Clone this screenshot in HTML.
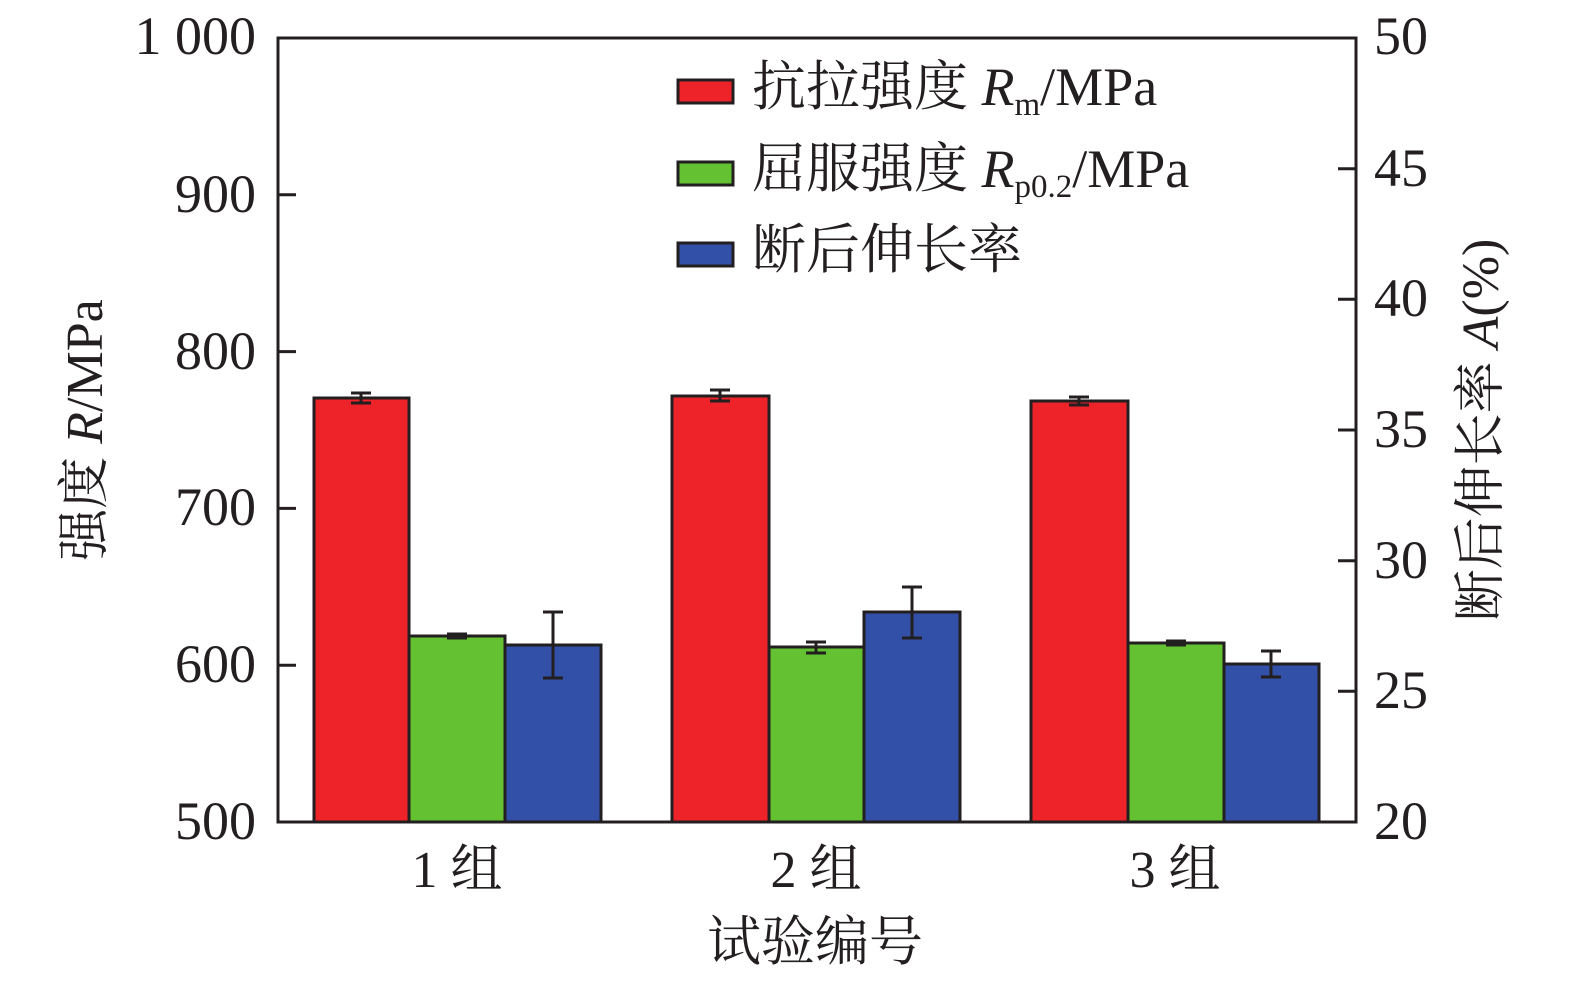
<!DOCTYPE html>
<html><head><meta charset="utf-8"><style>
html,body{margin:0;padding:0;background:#fff;overflow:hidden;width:1575px;height:984px}
svg{display:block}
svg text{font-family:"Liberation Serif","Noto Serif CJK SC",serif;fill:#231f20}
</style></head><body>
<svg width="1575" height="984" viewBox="0 0 1575 984" xmlns="http://www.w3.org/2000/svg">
<g stroke="#231f20" stroke-width="3">
<rect x="314" y="398" width="95" height="424" fill="#ee2229"/>
<rect x="409" y="636" width="96" height="186" fill="#63c132"/>
<rect x="505" y="645" width="96" height="177" fill="#3350a8"/>
<rect x="672" y="396" width="97" height="426" fill="#ee2229"/>
<rect x="769" y="647" width="95" height="175" fill="#63c132"/>
<rect x="864" y="612" width="96" height="210" fill="#3350a8"/>
<rect x="1031" y="401" width="97" height="421" fill="#ee2229"/>
<rect x="1128" y="643" width="96" height="179" fill="#63c132"/>
<rect x="1224" y="664" width="95" height="158" fill="#3350a8"/>
</g>
<g stroke="#231f20" stroke-width="3" fill="none">
<path d="M361 393V403M351 393H371M351 403H371"/>
<path d="M457 634V638M447 634H467M447 638H467"/>
<path d="M553 612V678M543 612H563M543 678H563"/>
<path d="M720 390V401M710 390H730M710 401H730"/>
<path d="M816 642V653M806 642H826M806 653H826"/>
<path d="M912 587V638M902 587H922M902 638H922"/>
<path d="M1079 397V405M1069 397H1089M1069 405H1089"/>
<path d="M1176 641V645M1166 641H1186M1166 645H1186"/>
<path d="M1271 651V677M1261 651H1281M1261 677H1281"/>
<rect x="278" y="38" width="1078" height="784"/>
<path d="M278 194.8H296M278 351.6H296M278 508.4H296M278 665.2H296"/>
<path d="M1356 168.7H1338M1356 299.3H1338M1356 430H1338M1356 560.7H1338M1356 691.3H1338"/>
</g>
<g font-size="54" text-anchor="end">
<text x="256" y="54">1 000</text>
<text x="256" y="212">900</text>
<text x="256" y="369">800</text>
<text x="256" y="525">700</text>
<text x="256" y="682">600</text>
<text x="256" y="839">500</text>
</g>
<g font-size="54" text-anchor="start">
<text x="1374" y="54">50</text>
<text x="1374" y="186">45</text>
<text x="1374" y="316">40</text>
<text x="1374" y="447">35</text>
<text x="1374" y="578">30</text>
<text x="1374" y="708">25</text>
<text x="1374" y="839">20</text>
</g>
<g font-size="52" text-anchor="middle">
<text x="457" y="887">1 组</text>
<text x="816" y="887">2 组</text>
<text x="1175" y="887">3 组</text>
<text x="815" y="960" font-size="54">试验编号</text>
</g>
<text font-size="52" text-anchor="middle" transform="translate(102,430) rotate(-90)">强度 <tspan font-style="italic">R</tspan>/MPa</text>
<text font-size="52" text-anchor="middle" transform="translate(1498,430) rotate(-90)">断后伸长率 <tspan font-style="italic">A</tspan>(%)</text>
<g stroke="#231f20" stroke-width="3">
<rect x="678" y="80" width="55" height="23" fill="#ee2229"/>
<rect x="678" y="162" width="55" height="23" fill="#63c132"/>
<rect x="678" y="243" width="55" height="23" fill="#3350a8"/>
</g>
<g font-size="54">
<text x="752" y="105">抗拉强度 <tspan font-style="italic">R</tspan><tspan font-size="33" dy="10">m</tspan><tspan dy="-10">/MPa</tspan></text>
<text x="752" y="187">屈服强度 <tspan font-style="italic">R</tspan><tspan font-size="33" dy="10">p0.2</tspan><tspan dy="-10">/MPa</tspan></text>
<text x="752" y="268">断后伸长率</text>
</g>
</svg>
</body></html>
